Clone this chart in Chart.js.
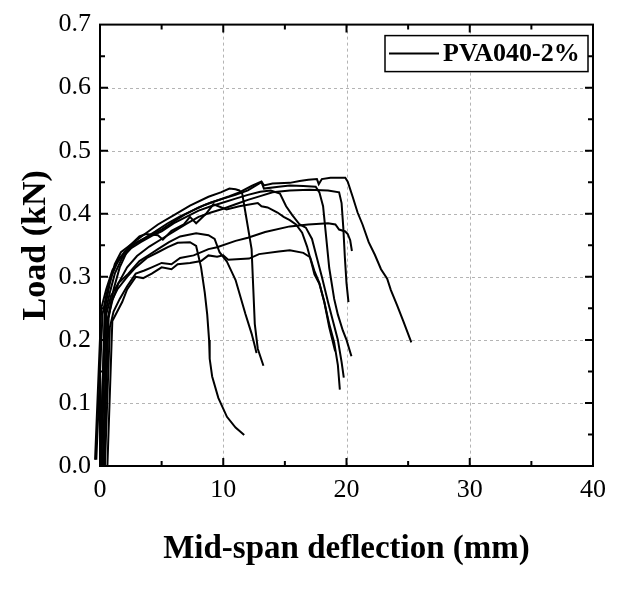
<!DOCTYPE html>
<html>
<head>
<meta charset="utf-8">
<script src="https://cdn.jsdelivr.net/npm/chart.js@4/dist/chart.umd.min.js"></script>
<style>
  html, body { margin: 0; padding: 0; background: #fff; }
  #wrap { width: 642px; height: 591px; }
</style>
</head>
<body>
<div id="wrap"><canvas id="chart" width="642" height="591"></canvas></div>
<script>
// axis ranges / ticks
const xTicks = [0, 10, 20, 30, 40];
const yTicks = [0.0, 0.1, 0.2, 0.3, 0.4, 0.5, 0.6, 0.7];
const legendLabel = 'PVA040-2%';

// 10 specimens, deflection (mm) vs load (kN)
const c1x = [0.3,0.6,0.9,1.4,2.2,2.9,3.8,4.7,5.5,6.3,7.3,7.8,8.2,8.5,8.7,8.85,8.9,9.1,9.6,10.3,11.0,11.7];
const c1y = [0,0.23,0.26,0.28,0.3,0.315,0.33,0.339,0.347,0.354,0.355,0.349,0.315,0.275,0.24,0.2,0.17,0.142,0.108,0.078,0.061,0.049];

const c2x = [0.1,0.5,0.9,1.5,2.3,3.2,4.0,4.7,5.6,6.5,7.8,8.8,9.3,9.7,10.3,11.0,11.8,12.3,12.5,12.7];
const c2y = [0,0.24,0.27,0.29,0.305,0.325,0.335,0.344,0.355,0.364,0.369,0.366,0.36,0.339,0.324,0.295,0.241,0.21,0.195,0.179];

const c3x = [0,0.4,0.8,1.2,1.7,2.7,3.5,4.7,6.0,7.3,8.8,9.8,10.5,11.0,11.3,11.54,11.8,12.3,12.44,12.56,12.8,13.26];
const c3y = [0,0.25,0.29,0.32,0.339,0.354,0.366,0.383,0.398,0.413,0.427,0.434,0.44,0.439,0.437,0.432,0.402,0.344,0.28,0.225,0.186,0.159];

const c4x = [-0.3,0.2,0.5,0.9,1.4,2.0,2.8,3.5,4.5,5.5,6.5,7.5,8.5,9.5,10.5,11.3,12.3,13.1,13.3,14.0,15.4,16.2,16.9,17.6,17.75,18.0,18.7,19.9,20.1,20.5,20.9,21.3,21.8,22.3,22.8,23.3,23.6,24.1,24.6,25.26];
const c4y = [0.01,0.24,0.27,0.3,0.322,0.34,0.352,0.36,0.372,0.385,0.396,0.405,0.414,0.421,0.428,0.434,0.444,0.451,0.445,0.448,0.449,0.452,0.454,0.455,0.447,0.455,0.457,0.457,0.451,0.427,0.402,0.383,0.355,0.335,0.312,0.297,0.279,0.255,0.23,0.196];

const c5x = [0.2,0.6,1.0,1.5,2.2,3.0,4.0,5.0,6.0,7.0,8.0,9.0,10.0,11.0,12.0,13.0,14.0,15.4,17.0,18.5,19.4,19.6,19.74,19.87,20.0,20.16];
const c5y = [0,0.23,0.262,0.29,0.315,0.333,0.348,0.36,0.372,0.384,0.395,0.402,0.408,0.415,0.422,0.428,0.434,0.437,0.438,0.437,0.434,0.417,0.378,0.33,0.29,0.26];

const c6x = [0.4,0.8,1.1,1.6,2.2,2.9,3.6,4.2,5.0,5.8,6.5,7.6,8.8,9.5,11.0,12.0,13.4,15.4,16.9,18.5,19.1,19.4,19.9,20.1,20.3,20.44];
const c6y = [0,0.22,0.245,0.265,0.285,0.305,0.31,0.315,0.322,0.32,0.33,0.334,0.344,0.347,0.357,0.362,0.371,0.38,0.383,0.385,0.383,0.375,0.372,0.368,0.358,0.341];

const c7x = [0.6,1.0,1.4,1.8,2.2,2.9,3.5,4.2,5.0,5.8,6.3,7.3,8.2,8.8,9.5,10.0,10.4,12.1,12.9,14.5,15.4,16.5,17.05,17.4,17.8,18.2,18.6,19.08];
const c7y = [0,0.23,0.245,0.26,0.28,0.3,0.298,0.305,0.315,0.312,0.32,0.322,0.325,0.334,0.332,0.334,0.327,0.329,0.336,0.34,0.342,0.338,0.331,0.309,0.29,0.26,0.22,0.182];

const c8x = [0,0.4,0.8,1.2,1.8,2.5,3.3,4.2,5.0,6.0,7.0,8.0,9.0,10.0,11.0,12.0,13.0,13.85,14.6,15.1,15.6,16.2,16.7,17.2,17.6,18.0,18.5,18.9,19.3,19.6,19.78];
const c8y = [0,0.24,0.275,0.305,0.33,0.345,0.355,0.365,0.372,0.385,0.395,0.405,0.412,0.418,0.424,0.43,0.435,0.437,0.432,0.412,0.398,0.383,0.378,0.36,0.33,0.3,0.26,0.23,0.2,0.165,0.14];

const c9x = [0.3,0.7,1.1,1.6,2.4,3.2,3.7,4.7,5.1,5.8,6.8,7.3,7.8,8.6,9.2,10.26,11.3,12.8,13.1,13.6,14.4,14.9,15.4,15.9,16.4,16.8,17.2,17.4,17.8,18.2,18.6,19.0,19.3,19.46];
const c9y = [0,0.235,0.28,0.315,0.349,0.364,0.368,0.366,0.359,0.373,0.383,0.395,0.385,0.4,0.415,0.407,0.412,0.417,0.412,0.41,0.402,0.395,0.39,0.383,0.37,0.348,0.319,0.304,0.289,0.26,0.225,0.196,0.16,0.121];

const c10x = [-0.4,0.1,0.5,1.0,1.6,2.3,3.0,4.0,5.0,6.0,7.0,8.0,9.0,10.0,11.0,12.0,13.1,13.3,14.5,15.4,16.5,17.5,17.8,18.1,18.3,18.6,19.0,19.3,19.7,20.0,20.4];
const c10y = [0.01,0.25,0.28,0.31,0.33,0.345,0.355,0.365,0.375,0.388,0.4,0.41,0.418,0.424,0.43,0.437,0.45,0.44,0.443,0.445,0.444,0.443,0.434,0.412,0.373,0.314,0.265,0.24,0.215,0.2,0.174];

const curvesX = [c1x, c2x, c3x, c4x, c5x, c6x, c7x, c8x, c9x, c10x];
const curvesY = [c1y, c2y, c3y, c4y, c5y, c6y, c7y, c8y, c9y, c10y];

const SERIF = '"Liberation Serif", "Times New Roman", serif';

const datasets = curvesX.map((xs, i) => ({
  label: i === 0 ? legendLabel : '',
  data: xs.map((x, j) => ({ x: x, y: curvesY[i][j] })),
  showLine: true,
  borderColor: '#000',
  borderWidth: 2,
  pointRadius: 0,
  tension: 0,
  clip: false
}));

// frame, dashed grid, inward ticks, boxed legend
const framePlugin = {
  id: 'frame',
  beforeDatasetsDraw(chart) {
    const { ctx, chartArea: a, scales: { x, y } } = chart;
    ctx.save();
    ctx.strokeStyle = '#b4b4b4';
    ctx.lineWidth = 1;
    ctx.setLineDash([3, 3]);
    xTicks.slice(1, -1).forEach(v => {
      const px = Math.round(x.getPixelForValue(v)) + 0.5;
      ctx.beginPath(); ctx.moveTo(px, a.top); ctx.lineTo(px, a.bottom); ctx.stroke();
    });
    yTicks.slice(1, -1).forEach(v => {
      const py = Math.round(y.getPixelForValue(v)) + 0.5;
      ctx.beginPath(); ctx.moveTo(a.left, py); ctx.lineTo(a.right, py); ctx.stroke();
    });
    ctx.restore();
  },
  afterDraw(chart) {
    const { ctx, chartArea: a, scales: { x, y } } = chart;
    ctx.save();
    ctx.strokeStyle = '#000';
    ctx.lineWidth = 2;
    ctx.setLineDash([]);
    ctx.strokeRect(a.left, a.top, a.right - a.left, a.bottom - a.top);

    // x ticks every 5, y ticks every 0.05
    for (let v = 5; v < 40; v += 5) {
      const len = v % 10 === 0 ? 8 : 5;
      const px = x.getPixelForValue(v);
      ctx.beginPath();
      ctx.moveTo(px, a.bottom); ctx.lineTo(px, a.bottom - len);
      ctx.moveTo(px, a.top); ctx.lineTo(px, a.top + len);
      ctx.stroke();
    }
    for (let k = 1; k < 14; k++) {
      const len = k % 2 === 0 ? 8 : 5;
      const py = y.getPixelForValue(k * 0.05);
      ctx.beginPath();
      ctx.moveTo(a.left, py); ctx.lineTo(a.left + len, py);
      ctx.moveTo(a.right, py); ctx.lineTo(a.right - len, py);
      ctx.stroke();
    }

    // legend box
    const bx = a.right - 208, by = a.top + 11, bw = 203, bh = 36;
    ctx.fillStyle = '#fff';
    ctx.fillRect(bx, by, bw, bh);
    ctx.lineWidth = 1.5;
    ctx.strokeRect(bx, by, bw, bh);
    ctx.lineWidth = 2;
    ctx.beginPath();
    ctx.moveTo(bx + 4, by + bh / 2); ctx.lineTo(bx + 54, by + bh / 2);
    ctx.stroke();
    ctx.fillStyle = '#000';
    ctx.font = 'bold 26px ' + SERIF;
    ctx.textBaseline = 'middle';
    ctx.textAlign = 'left';
    ctx.fillText(legendLabel, bx + 58, by + bh / 2 + 1);
    ctx.restore();
  }
};

const ctx = document.getElementById('chart').getContext('2d');
new Chart(ctx, {
  type: 'scatter',
  data: { datasets: datasets },
  options: {
    responsive: false,
    animation: false,
    layout: { padding: { top: 23, right: 49, left: 0, bottom: 0 } },
    plugins: { legend: { display: false }, tooltip: { enabled: false } },
    scales: {
      x: {
        type: 'linear', min: 0, max: 40,
        afterBuildTicks: s => { s.ticks = xTicks.map(v => ({ value: v })); },
        afterFit: s => { s.height = 125; },
        grid: { display: false, drawTicks: false },
        border: { display: false },
        ticks: { color: '#000', padding: 9, font: { family: SERIF, size: 26 }, callback: v => v },
        title: { display: true, text: 'Mid-span deflection (mm)', color: '#000', padding: { top: 0, bottom: 22 }, font: { family: SERIF, size: 33, weight: 'bold' } }
      },
      y: {
        type: 'linear', min: 0, max: 0.7,
        afterBuildTicks: s => { s.ticks = yTicks.map(v => ({ value: v })); },
        afterFit: s => { s.width = 100; },
        grid: { display: false, drawTicks: false },
        border: { display: false },
        ticks: { color: '#000', padding: 9, font: { family: SERIF, size: 26 }, callback: v => Number(v).toFixed(1) },
        title: { display: true, text: 'Load (kN)', color: '#000', padding: { top: 16, bottom: 0 }, font: { family: SERIF, size: 34, weight: 'bold' } }
      }
    }
  },
  plugins: [framePlugin]
});
</script>
</body>
</html>
